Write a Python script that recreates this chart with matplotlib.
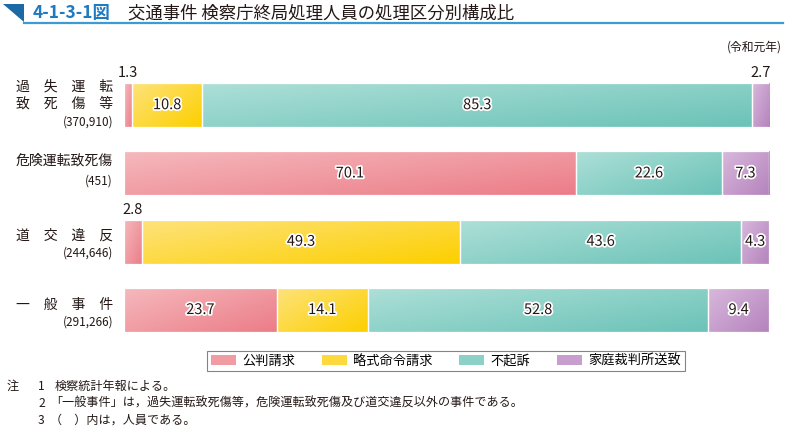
import matplotlib
matplotlib.use("Agg")
import matplotlib.pyplot as plt
import numpy as np
from matplotlib.colors import LinearSegmentedColormap
from matplotlib.patches import Patch, Polygon, Rectangle
from matplotlib.lines import Line2D
import matplotlib.patheffects as pe

plt.rcParams['font.family'] = ['Noto Sans CJK JP', 'DejaVu Sans']

categories = ["過失運転致死傷等", "危険運転致死傷", "道交違反", "一般事件"]
cat_lines = [["過　失　運　転", "致　死　傷　等"], ["危険運転致死傷"], ["道　交　違　反"], ["一　般　事　件"]]
counts = ["(370,910)", "(451)", "(244,646)", "(291,266)"]
series = ["公判請求", "略式命令請求", "不起訴", "家庭裁判所送致"]
values = {
    "公判請求":     [1.3, 70.1, 2.8, 23.7],
    "略式命令請求": [10.8, 0.0, 49.3, 14.1],
    "不起訴":       [85.3, 22.6, 43.6, 52.8],
    "家庭裁判所送致": [2.7, 7.3, 4.3, 9.4],
}
grad_colors = {
    "公判請求": ("#f5b8bc", "#ec7d88"),
    "略式命令請求": ("#fee27a", "#fcd000"),
    "不起訴": ("#acdfd7", "#6cc3b8"),
    "家庭裁判所送致": ("#d8b8dc", "#b584bd"),
}

W, H = 788, 436
fig = plt.figure(figsize=(W / 100, H / 100), dpi=100)

ax_left, ax_right = 124, 769
row_step = 68.3
top_px = 71
ax_h = 4 * row_step
ax = fig.add_axes([ax_left / W, 1 - (top_px + ax_h) / H, (ax_right - ax_left) / W, ax_h / H])
ax.set_xlim(0, 100)
ax.set_ylim(3.5, -0.5)
ax.axis('off')

y = np.arange(len(categories))
bar_h = 44 / row_step
left = np.zeros(len(categories))
u, v = np.meshgrid(np.linspace(0, 1, 64), np.linspace(0, 1, 16))
grad = (0.55 * u + 0.45 * v)
for s in series:
    vals = np.array(values[s])
    c0, c1 = grad_colors[s]
    cmap = LinearSegmentedColormap.from_list(s, [c0, c1])
    bars = ax.barh(y, vals, left=left, height=bar_h, color=c1, edgecolor='none', zorder=1)
    for rect, val in zip(bars, vals):
        if val <= 0:
            continue
        x0, y0, w, h = rect.get_x(), rect.get_y(), rect.get_width(), rect.get_height()
        im = ax.imshow(grad, cmap=cmap, extent=[x0, x0 + w, y0 + h, y0], aspect='auto',
                       zorder=2, interpolation='bilinear', vmin=0, vmax=1)
        im.set_clip_path(rect)
        ax.add_patch(Rectangle((x0, y0), w, h, facecolor='none', edgecolor='white', lw=0.9, zorder=3))
    for i, val in enumerate(vals):
        if val <= 0:
            continue
        cx = left[i] + val / 2
        if val < 4:
            ax.text(cx, y[i] - bar_h / 2 - 0.04, f"{val:.1f}", ha='center', va='bottom',
                    fontsize=10.5, color='#231815', zorder=5)
        else:
            ax.text(cx, y[i], f"{val:.1f}", ha='center', va='center', fontsize=10.5,
                    color='#231815', zorder=5,
                    path_effects=[pe.withStroke(linewidth=2.5, foreground='white')])
    left += vals
ax.set_xlim(0, 100)
ax.set_ylim(3.5, -0.5)

lab_x = 113 / W
def fy(py):
    return 1 - py / H
label_pos = [([86, 104], 122), ([161], 181), ([236], 253), ([305], 322)]
for lines, (ys, py) in zip(cat_lines, label_pos):
    for t, yy in zip(lines, ys):
        fig.text(lab_x, fy(yy), t, ha='right', va='center', fontsize=10, color='#231815')
for c, (ys, py) in zip(counts, label_pos):
    fig.text(lab_x, fy(py), c, ha='right', va='center', fontsize=8.5, color='#231815')

fig.text(782 / W, fy(47), "(令和元年)", ha='right', va='center', fontsize=8.5, color='#231815')

fig.add_artist(Polygon([[3 / W, fy(4)], [24 / W, fy(4)], [24 / W, fy(22)]], closed=True,
                       transform=fig.transFigure, facecolor='#1b6aa5', edgecolor='none'))
fig.add_artist(Line2D([24 / W, 783 / W], [fy(23), fy(23)], transform=fig.transFigure,
                      color='#3b9bd2', lw=1.6))
fig.text(33 / W, fy(13), "4-1-3-1図", ha='left', va='center', fontsize=12.5,
         fontweight='bold', color='#1f7bc1')
fig.text(128 / W, fy(13), "交通事件 検察庁終局処理人員の処理区分別構成比", ha='left',
         va='center', fontsize=12.5, color='#231815')

handles = [Patch(facecolor=tuple((np.array(matplotlib.colors.to_rgb(grad_colors[s][0])) +
                                  np.array(matplotlib.colors.to_rgb(grad_colors[s][1]))) / 2),
                 edgecolor='none') for s in series]
leg = fig.legend(handles, series, loc='center', bbox_to_anchor=(446 / W, fy(361)),
                 ncol=4, fontsize=9.5, frameon=True, fancybox=False, edgecolor='#666666',
                 handlelength=1.9, handleheight=0.9, columnspacing=2.0, handletextpad=0.5,
                 borderpad=0.3, borderaxespad=0)
leg.get_frame().set_linewidth(0.8)

notes = [("注", "1", "検察統計年報による。"),
         ("", "2", "「一般事件」は，過失運転致死傷等，危険運転致死傷及び道交違反以外の事件である。"),
         ("", "3", "（　）内は，人員である。")]
for i, (a, b, c) in enumerate(notes):
    yy = fy(386 + 17 * i)
    if a:
        fig.text(7 / W, yy, a, ha='left', va='center', fontsize=8.7, color='#231815')
    fig.text(38 / W, yy, b, ha='left', va='center', fontsize=8.7, color='#231815')
    fig.text((55 if i == 0 else 50) / W, yy, c, ha='left', va='center', fontsize=8.7, color='#231815')

fig.savefig("out.png", dpi=100)
